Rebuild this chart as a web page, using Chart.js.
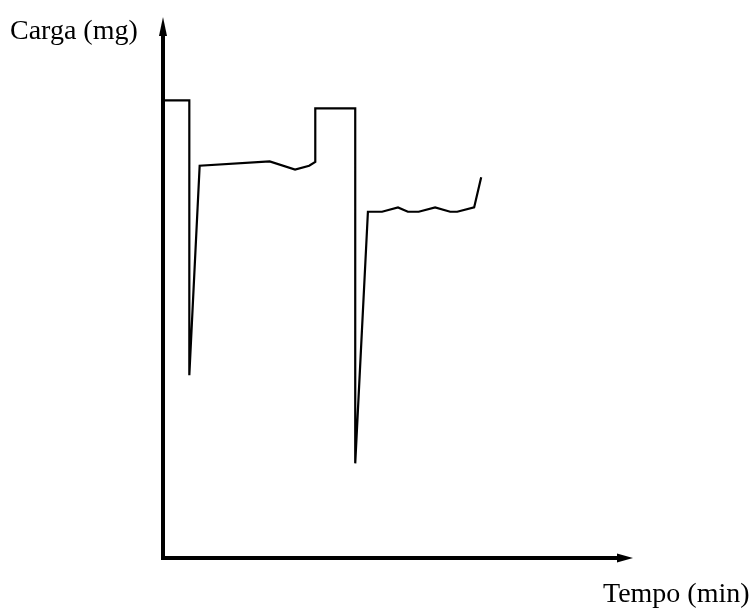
<!DOCTYPE html>
<html>
<head>
<meta charset="utf-8">
<script src="https://cdn.jsdelivr.net/npm/chart.js@4/dist/chart.umd.min.js"></script>
<style>
  html, body { margin: 0; padding: 0; background: #fff; }
  #wrap { width: 753px; height: 610px; position: relative; }
</style>
</head>
<body>
<div id="wrap"><canvas id="chart"></canvas></div>
<script>
// tempo (min) and carga (mg) (arbitrary units, axes have no ticks)
var tempo = [0, 5.6, 5.6, 7.8, 22.7, 28.1, 31.1, 32.4, 32.4, 40.9, 40.9, 43.6, 46.6, 50.0, 52.1, 54.4, 57.9, 61.1, 62.6, 66.2, 67.7];
var carga = [84.6, 84.6, 33.8, 72.5, 73.3, 71.8, 72.5, 73.2, 83.1, 83.1, 17.5, 64.0, 64.0, 64.8, 64.0, 64.0, 64.8, 64.0, 64.0, 64.8, 70.4];
var yLabel = 'Carga (mg)';
var xLabel = 'Tempo (min)';

var points = [];
for (var i = 0; i < tempo.length; i++) {
  points.push({ x: tempo[i], y: carga[i] });
}

// axes with arrow heads + the two labels
var axesPlugin = {
  id: 'axesArrows',
  afterDatasetsDraw: function(chart) {
    var ctx = chart.ctx;
    var x0 = chart.scales.x.getPixelForValue(0);
    var y0 = chart.scales.y.getPixelForValue(0);
    var xEnd = chart.scales.x.getPixelForValue(100);
    var yEnd = chart.scales.y.getPixelForValue(100);
    ctx.save();
    ctx.strokeStyle = '#000';
    ctx.fillStyle = '#000';
    ctx.lineWidth = 4;
    ctx.lineCap = 'square';
    ctx.beginPath();
    ctx.moveTo(x0, yEnd + 16);
    ctx.lineTo(x0, y0);
    ctx.lineTo(xEnd - 14, y0);
    ctx.stroke();
    // y arrow
    ctx.beginPath();
    ctx.moveTo(x0, yEnd);
    ctx.lineTo(x0 - 4, yEnd + 19);
    ctx.lineTo(x0 + 4, yEnd + 19);
    ctx.closePath();
    ctx.fill();
    // x arrow
    ctx.beginPath();
    ctx.moveTo(xEnd, y0);
    ctx.lineTo(xEnd - 16, y0 - 4.5);
    ctx.lineTo(xEnd - 16, y0 + 4.5);
    ctx.closePath();
    ctx.fill();

    ctx.font = '28px "Liberation Serif", "Times New Roman", serif';
    ctx.textBaseline = 'alphabetic';
    ctx.textAlign = 'left';
    ctx.fillText(yLabel, 10, 39);
    ctx.fillText(xLabel, 603, 602);
    ctx.restore();
  }
};

new Chart(document.getElementById('chart'), {
  type: 'line',
  data: {
    datasets: [{
      data: points,
      borderColor: '#000',
      borderWidth: 2.2,
      pointRadius: 0,
      tension: 0,
      fill: false
    }]
  },
  options: {
    responsive: true,
    maintainAspectRatio: false,
    animation: false,
    layout: { padding: { left: 163, right: 120, top: 17, bottom: 52 } },
    plugins: { legend: { display: false }, tooltip: { enabled: false } },
    scales: {
      x: { type: 'linear', min: 0, max: 100, display: false },
      y: { type: 'linear', min: 0, max: 100, display: false }
    }
  },
  plugins: [axesPlugin]
});
</script>
</body>
</html>
